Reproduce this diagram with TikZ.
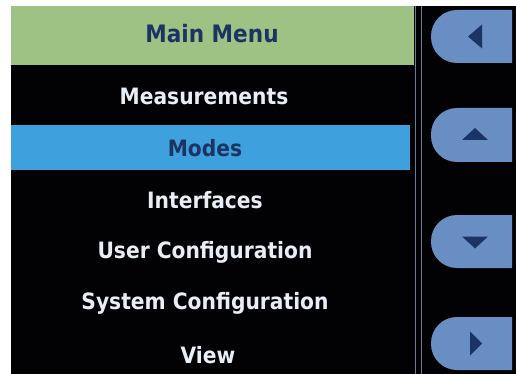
\documentclass[tikz,border=0pt]{standalone}
\usepackage{fontspec}
\setmainfont{DejaVu Sans Condensed}
\usetikzlibrary{calc}
\definecolor{screenblack}{RGB}{2,2,4}
\definecolor{headergreen}{RGB}{158,194,132}
\definecolor{selblue}{RGB}{62,160,220}
\definecolor{btnblue}{RGB}{104,142,196}
\definecolor{navy}{RGB}{28,52,100}
\definecolor{itemwhite}{RGB}{232,238,246}
\definecolor{railgray}{RGB}{105,125,145}
\begin{document}
\begin{tikzpicture}[x=1pt,y=-1pt,
  item/.style={text=itemwhite,font=\fontsize{22.5}{24}\selectfont\bfseries,inner sep=0pt,anchor=center},
  title/.style={text=navy,font=\fontsize{24}{26}\selectfont\bfseries,inner sep=0pt,anchor=center},
  btn/.style={fill=btnblue,draw=none,rounded corners=26pt},
  tri/.style={fill=navy,draw=none}]
\useasboundingbox (0,0) rectangle (516,374);
\fill[white] (0,0) rectangle (516,374);
% screen
\fill[screenblack] (11,6) rectangle (516,374);
% header and selected row
\fill[headergreen] (11,6) rectangle (414,65);
\fill[selblue] (11,125) rectangle (410,170);
% divider rails
\draw[railgray,line width=1.4pt] (415.5,6) -- (415.5,374);
\draw[railgray,line width=1.4pt] (421.5,6) -- (421.5,374);
% menu texts
\node[title] (title) at (212,34) {Main Menu};
\node[item] (meas) at (204,96) {Measurements};
\node[item,text=navy] (modes) at (205,148) {Modes};
\node[item] (intf) at (205,200) {Interfaces};
\node[item] (ucfg) at (205,252) {User Configuration};
\node[item] (scfg) at (205,303) {System Configuration};
\node[item] (view) at (208,355) {View};
% side buttons: rounded on the left, square on the right
\foreach \n/\t/\b in {bl/10/63, bu/108/162, bd/215/268, br/317/370}{
  \begin{scope}
    \clip (431,\t) rectangle (512,\b);
    \fill[btn] (431,\t) rectangle (560,\b);
  \end{scope}
  \coordinate (\n) at (475,{(\t+\b)/2});
}
% arrow glyphs
\fill[tri] ($(bl)+(-7,0)$) -- ($(bl)+(7,-12)$) -- ($(bl)+(7,12)$) -- cycle;
\fill[tri] ($(bu)+(-13,5)$) -- ($(bu)+(13,5)$) -- ($(bu)+(0,-7)$) -- cycle;
\fill[tri] ($(bd)+(-13,-5)$) -- ($(bd)+(13,-5)$) -- ($(bd)+(0,7)$) -- cycle;
\fill[tri] ($(br)+(7,0)$) -- ($(br)+(-5,-12)$) -- ($(br)+(-5,12)$) -- cycle;
\end{tikzpicture}
\end{document}
